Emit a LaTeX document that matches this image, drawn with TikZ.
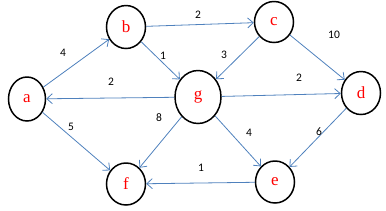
\documentclass[tikz,border=0pt]{standalone}
\usepackage{fontspec}
\setmainfont{Liberation Serif}
\newfontfamily\numfont{Carlito}
\usetikzlibrary{arrows.meta,shapes.geometric}
\begin{document}
\begin{tikzpicture}[x=1pt,y=-1pt,
  vert/.style={draw=black,line width=1.5pt,ellipse,inner sep=0pt,text=red,font=\fontsize{17}{17}\selectfont},
  edge/.style={draw={rgb,255:red,79;green,129;blue,189},line width=0.8pt,-{Straight Barb[length=5.5pt,width=10pt]}},
  wlab/.style={font=\numfont\fontsize{11.5}{11.5}\selectfont,text=black,inner sep=0pt}]
\useasboundingbox (0,0) rectangle (386,210);
\node[vert,minimum width=37pt,minimum height=44pt] (a) at (27,99) {a};
\node[vert,minimum width=39pt,minimum height=43pt] (b) at (126,27) {b};
\node[vert,minimum width=39pt,minimum height=41pt] (c) at (274,22) {c};
\node[vert,minimum width=46pt,minimum height=53pt] (g) at (198,97) {g};
\node[vert,minimum width=39pt,minimum height=43pt] (d) at (361,93) {d};
\node[vert,minimum width=39pt,minimum height=42pt] (e) at (275,182) {e};
\node[vert,minimum width=39pt,minimum height=42pt] (f) at (126,184) {f};
\draw[edge] (a) -- (b);
\draw[edge] (b) -- (g);
\draw[edge] (b) -- (c);
\draw[edge] (c) -- (g);
\draw[edge] (c) -- (d);
\draw[edge] (g) -- (a);
\draw[edge] (g) -- (d);
\draw[edge] (g) -- (f);
\draw[edge] (g) -- (e);
\draw[edge] (d) -- (e);
\draw[edge] (e) -- (f);
\draw[edge] (a) -- (f);
\node[wlab] (w1) at (63,53) {4};
\node[wlab] (w2) at (163,56) {1};
\node[wlab] (w3) at (198,15) {2};
\node[wlab] (w4) at (334,35) {10};
\node[wlab] (w5) at (224,55) {3};
\node[wlab] (w6) at (111,82) {2};
\node[wlab] (w7) at (299,78) {2};
\node[wlab] (w8) at (71,127) {5};
\node[wlab] (w9) at (159,118) {8};
\node[wlab] (w10) at (249,133) {4};
\node[wlab] (w11) at (319,132) {6};
\node[wlab] (w12) at (201,168) {1};
\end{tikzpicture}
\end{document}
